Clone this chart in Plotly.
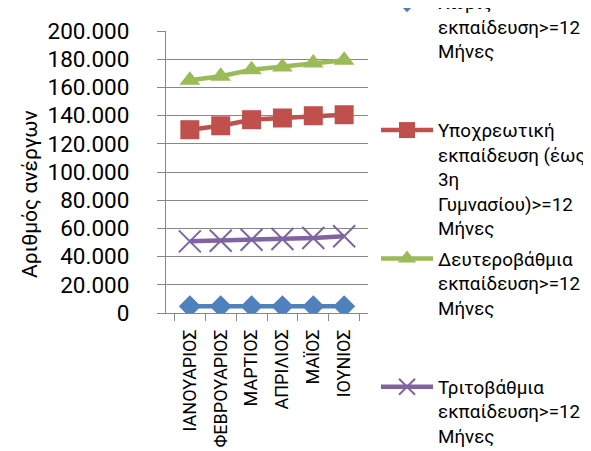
import plotly.graph_objects as go

months = ["ΙΑΝΟΥΑΡΙΟΣ", "ΦΕΒΡΟΥΑΡΙΟΣ", "ΜΑΡΤΙΟΣ", "ΑΠΡΙΛΙΟΣ", "ΜΑΪΟΣ", "ΙΟΥΝΙΟΣ"]
no_education = [4700, 4700, 4700, 4700, 4700, 4700]
compulsory = [130000, 132800, 137100, 138300, 139900, 140600]
secondary = [165000, 167900, 172500, 174500, 177300, 179200]
tertiary = [50800, 51300, 52000, 52500, 53200, 54400]

names = [
    "Χωρίς<br>εκπαίδευση>=12<br>Μήνες<br> <br> ",
    "Υποχρεωτική<br>εκπαίδευση (έως<br>3η<br>Γυμνασίου)>=12<br>Μήνες",
    "Δευτεροβάθμια<br>εκπαίδευση>=12<br>Μήνες<br> <br> ",
    "Τριτοβάθμια<br>εκπαίδευση>=12<br>Μήνες",
]

FONT = "Roboto"
GRID = "#878787"

fig = go.Figure()
fig.add_trace(go.Scatter(x=months, y=no_education, name=names[0], mode="lines+markers",
                         legendgroup="g1",
                         line=dict(color="#4F81BD", width=4.5),
                         marker=dict(symbol="diamond", size=17, color="#4F81BD")))
fig.add_trace(go.Scatter(x=months, y=compulsory, name=names[1], mode="lines+markers",
                         legendgroup="g2",
                         line=dict(color="#C0504D", width=4.5),
                         marker=dict(symbol="square", size=19, color="#C0504D")))
fig.add_trace(go.Scatter(x=months, y=secondary, name=names[2], mode="lines+markers",
                         legendgroup="g3",
                         line=dict(color="#9BBB59", width=4.5),
                         marker=dict(symbol="triangle-up", size=18, color="#9BBB59")))
fig.add_trace(go.Scatter(x=months, y=tertiary, name=names[3], mode="lines+markers",
                         legendgroup="g4",
                         line=dict(color="#8064A2", width=4.5),
                         marker=dict(symbol="x-thin", size=22, color="#8064A2",
                                     line=dict(color="#8064A2", width=2))))

fig.update_layout(
    width=591, height=451,
    margin=dict(l=158, r=231, t=23, b=146, autoexpand=False),
    paper_bgcolor="white", plot_bgcolor="white",
    separators=",.",
    font=dict(family=FONT, color="#000000"),
    showlegend=True,
    legend=dict(
        x=(368 - 158) / 202, xanchor="left", y=1.170, yanchor="top",
        font=dict(family=FONT, size=18.8, color="#000000"),
        valign="top", itemwidth=52, maxheight=1000,
        bgcolor="rgba(0,0,0,0)", tracegroupgap=3.1,
    ),
    xaxis=dict(
        type="category", tickson="boundaries", ticks="outside", ticklen=7,
        tickcolor=GRID, tickwidth=1.3, showline=True, linecolor=GRID, linewidth=1.3,
        showgrid=False, tickangle=-90, tickfont=dict(family=FONT, size=18),
        ticklabelstandoff=8,
    ),
    yaxis=dict(
        range=[0, 200000], dtick=20000, tickformat=",d",
        showgrid=True, gridcolor=GRID, gridwidth=1.3,
        ticks="outside", ticklen=8, tickcolor=GRID, tickwidth=1.3,
        showline=True, linecolor=GRID, linewidth=1.3, zeroline=False,
        tickfont=dict(family=FONT, size=22.5), ticklabelstandoff=23,
    ),
    annotations=[dict(
        text="Αριθμός ανέργων", textangle=-90, showarrow=False,
        xref="paper", yref="paper", x=(22 - 158) / 202, y=(305 - 186) / 282,
        xanchor="center", yanchor="middle",
        font=dict(family=FONT, size=21, color="#000000"),
    )],
)

fig.write_html("out.html", config={"displayModeBar": False})
